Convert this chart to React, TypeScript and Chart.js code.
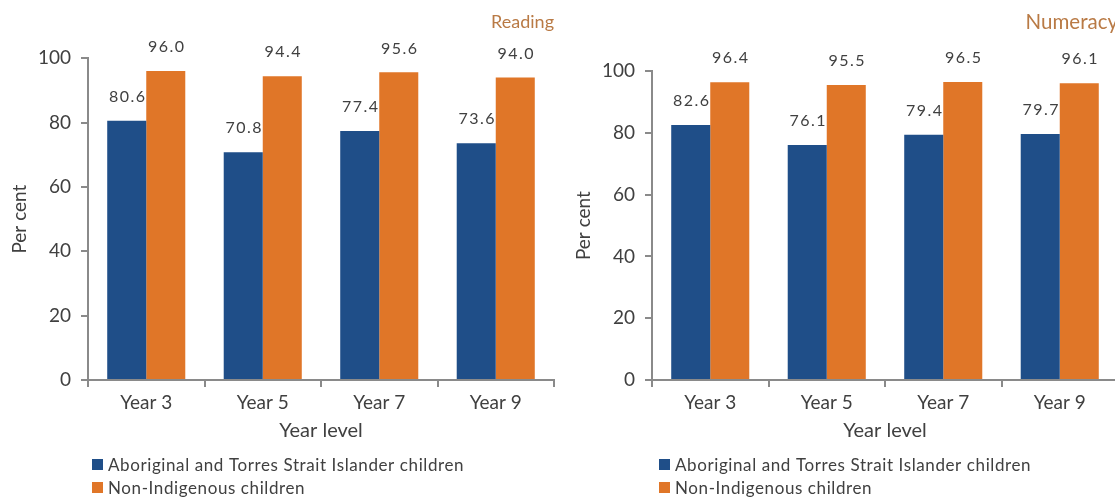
import React, { useEffect, useRef } from 'react';
import { Chart, registerables } from 'chart.js';

Chart.register(...registerables);

const categories = ['Year 3', 'Year 5', 'Year 7', 'Year 9'];
const seriesNames = ['Aboriginal and Torres Strait Islander children', 'Non-Indigenous children'];
const seriesColors = ['#1F4E88', '#E07628'];
const readingIndigenous = [80.6, 70.8, 77.4, 73.6];
const readingNonIndigenous = [96.0, 94.4, 95.6, 94.0];
const numeracyIndigenous = [82.6, 76.1, 79.4, 79.7];
const numeracyNonIndigenous = [96.4, 95.5, 96.5, 96.1];
const yMin = 0;
const yMax = 100;
const yStep = 20;
const yTitle = 'Per cent';
const xTitle = 'Year level';

const FONT = 'Lato, "Liberation Sans", sans-serif';
const TEXT = '#404040';
const AXIS = '#8a8a8a';

const valueLabelPlugin = {
  id: 'valueLabels',
  afterDatasetsDraw(chart: any) {
    const ctx = chart.ctx;
    ctx.save();
    ctx.font = `16px ${FONT}`;
    ctx.fillStyle = TEXT;
    ctx.textAlign = 'center';
    ctx.textBaseline = 'middle';
    try { (ctx as any).letterSpacing = '1.5px'; } catch (e) {}
    chart.data.datasets.forEach((ds: any, di: number) => {
      const meta = chart.getDatasetMeta(di);
      meta.data.forEach((el: any, i: number) => {
        const v = ds.data[i] as number;
        ctx.fillText(v.toFixed(1), el.x + 1, el.y - 24);
      });
    });
    ctx.restore();
  },
};

const customLegendPlugin = {
  id: 'customLegend',
  afterDraw(chart: any, _args: any, opts: any) {
    const ctx = chart.ctx;
    const x0 = chart.chartArea.left + (opts.offset || 4);
    const yBase = chart.scales.x.bottom;
    ctx.save();
    ctx.font = `17px ${FONT}`;
    ctx.textAlign = 'left';
    ctx.textBaseline = 'middle';
    chart.data.datasets.forEach((ds: any, i: number) => {
      const yc = yBase + 18 + i * 23;
      ctx.fillStyle = ds.backgroundColor;
      ctx.fillRect(x0, yc - 6, 11, 11);
      ctx.fillStyle = TEXT;
      try { (ctx as any).letterSpacing = '0.6px'; } catch (e) {}
      ctx.fillText(ds.label, x0 + 16, yc + 1);
    });
    ctx.restore();
  },
};

type PanelProps = {
  title: string;
  titleSize: number;
  indigenous: number[];
  nonIndigenous: number[];
  titleBottomPad: number;
  legendOffset: number;
};

function Panel({ title, titleSize, indigenous, nonIndigenous, titleBottomPad, legendOffset }: PanelProps) {
  const ref = useRef<HTMLCanvasElement | null>(null);
  useEffect(() => {
    if (!ref.current) return;
    const chart = new Chart(ref.current, {
      type: 'bar',
      data: {
        labels: categories,
        datasets: [
          { label: seriesNames[0], data: indigenous, backgroundColor: seriesColors[0], borderWidth: 0 },
          { label: seriesNames[1], data: nonIndigenous, backgroundColor: seriesColors[1], borderWidth: 0 },
        ],
      },
      options: {
        responsive: false,
        maintainAspectRatio: false,
        animation: false,
        layout: { padding: { left: 0, right: 10, top: 0, bottom: 50 } },
        datasets: { bar: { categoryPercentage: 0.67, barPercentage: 1.0 } },
        plugins: {
          legend: { display: false },
          tooltip: { enabled: false },
          title: {
            display: true,
            text: title,
            align: 'end',
            color: '#B97A45',
            font: { family: FONT, size: titleSize, weight: 'normal', lineHeight: 1.2 },
            padding: { top: 22 - (titleSize * 1.2) / 2, bottom: titleBottomPad - (titleSize * 1.2 - 21.6) / 2 },
          },
          customLegend: { offset: legendOffset },
        } as any,
        scales: {
          x: {
            grid: { display: true, drawOnChartArea: false, drawTicks: true, tickLength: 7, color: AXIS, lineWidth: 2, offset: true },
            border: { display: true, color: AXIS, width: 2 },
            ticks: { color: TEXT, font: { family: FONT, size: 19 }, padding: 4 },
            title: { display: true, text: xTitle, color: TEXT, font: { family: FONT, size: 20, lineHeight: 1.2 }, padding: { top: 0, bottom: 4 } },
            afterFit: (s: any) => { s.height = 67; },
          },
          y: {
            min: yMin,
            max: yMax,
            grid: { display: true, drawOnChartArea: false, drawTicks: true, tickLength: 7, color: AXIS, lineWidth: 2 },
            border: { display: true, color: AXIS, width: 2 },
            ticks: { stepSize: yStep, color: TEXT, font: { family: FONT, size: 19 }, padding: 10 },
            title: { display: true, text: yTitle, color: TEXT, font: { family: FONT, size: 19, lineHeight: 1.2 }, padding: { top: 8, bottom: 0 } },
            afterFit: (s: any) => { s.width = 88; },
          },
        },
      } as any,
      plugins: [valueLabelPlugin, customLegendPlugin],
    });
    return () => chart.destroy();
  }, [title, titleSize, indigenous, nonIndigenous, titleBottomPad, legendOffset]);
  return <canvas ref={ref} width={564} height={497} style={{ width: 564, height: 497, display: 'block' }} />;
}

export default function App() {
  return (
    <div style={{ position: 'fixed', left: 0, top: 0, width: 1115, height: 497, overflow: 'hidden', background: '#fff' }}>
      <div style={{ position: 'absolute', left: 0, top: 0, width: 564, height: 497 }}>
        <Panel title="Reading" titleSize={18} indigenous={readingIndigenous} nonIndigenous={readingNonIndigenous} titleBottomPad={25.4} legendOffset={4} />
      </div>
      <div style={{ position: 'absolute', left: 564, top: 0, width: 564, height: 497 }}>
        <Panel title="Numeracy" titleSize={20.5} indigenous={numeracyIndigenous} nonIndigenous={numeracyNonIndigenous} titleBottomPad={38.4} legendOffset={7} />
      </div>
    </div>
  );
}
